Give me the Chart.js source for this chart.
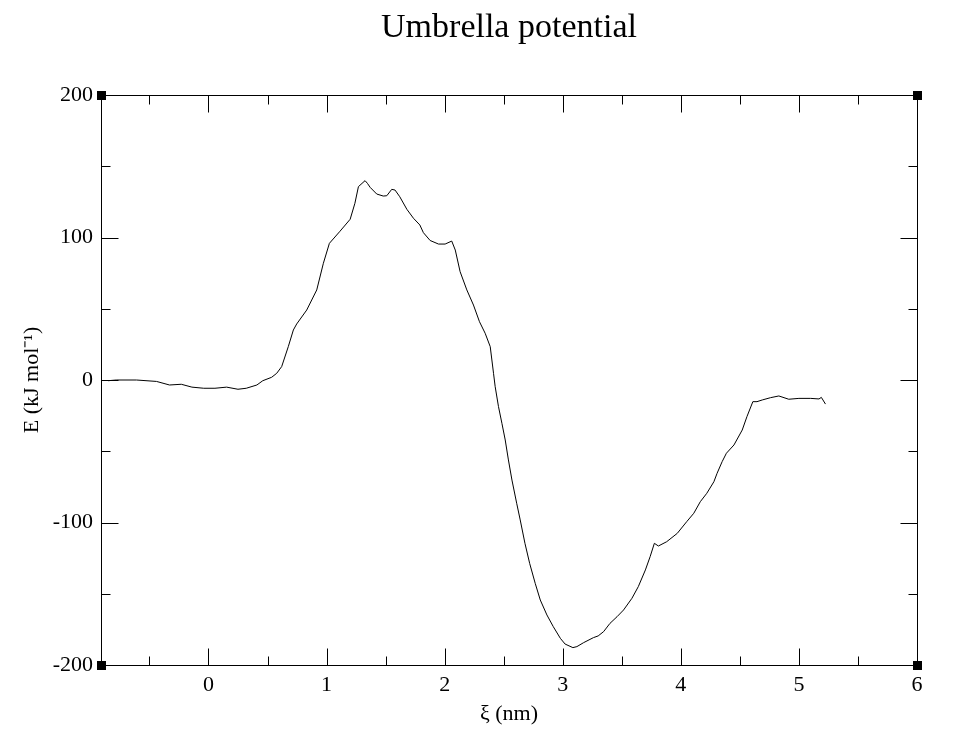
<!DOCTYPE html>
<html>
<head>
<meta charset="utf-8">
<title>Umbrella potential</title>
<script src="https://cdn.jsdelivr.net/npm/chart.js@4/dist/chart.umd.min.js"></script>
<style>
  html, body { margin: 0; padding: 0; background: #fff; }
  #wrap { width: 959px; height: 747px; }
</style>
</head>
<body>
<div id="wrap"><canvas id="umbrella" width="959" height="747"></canvas></div>
<script>
// reaction coordinate (nm) and energy (kJ/mol)
var xi = [-0.85, -0.78, -0.61, -0.44, -0.33, -0.23, -0.14, -0.04, 0.055, 0.154,
  0.25, 0.32, 0.41, 0.46, 0.535, 0.578, 0.62, 0.676, 0.719, 0.747,
  0.832, 0.917, 0.973, 1.024, 1.114, 1.2, 1.24, 1.27, 1.326, 1.346,
  1.369, 1.425, 1.48, 1.51, 1.552, 1.58, 1.62, 1.68, 1.736, 1.79,
  1.82, 1.877, 1.948, 2.004, 2.06, 2.09, 2.131, 2.188, 2.244, 2.295,
  2.343, 2.386, 2.414, 2.428, 2.456, 2.485, 2.513, 2.54, 2.57, 2.61,
  2.64, 2.68, 2.72, 2.767, 2.81, 2.866, 2.92, 2.98, 3.02, 3.086,
  3.12, 3.177, 3.26, 3.3, 3.346, 3.4, 3.46, 3.515, 3.586, 3.64,
  3.7, 3.74, 3.776, 3.81, 3.88, 3.97, 4.05, 4.11, 4.165, 4.22,
  4.28, 4.307, 4.35, 4.386, 4.45, 4.52, 4.56, 4.61, 4.645, 4.69,
  4.76, 4.83, 4.914, 5.0, 5.1, 5.17, 5.19, 5.225];
var energy = [-0.5, 0, 0, -1, -3.5, -3, -5, -5.8, -5.8, -5,
  -6.5, -5.8, -3.5, -0.5, 1.9, 4.7, 9.4, 23.4, 35.1, 39.3,
  49.1, 63.2, 81.9, 95.9, 104.4, 112.8, 124, 135.7, 139.9, 138,
  135.2, 130.5, 129.1, 129.3, 133.8, 133.3, 128.6, 119.8, 113.5, 108.8,
  103.4, 97.9, 95.4, 95.4, 97.5, 91.2, 76, 63.2, 52.6, 40.9,
  32.8, 23.4, 4.7, -4.7, -18.7, -30.4, -42.1, -56.1, -70.2, -86.5,
  -98.2, -114.6, -128.7, -142.7, -154.4, -164.9, -173.1, -181.3, -185.3, -187.8,
  -187.1, -184.3, -180.8, -179.6, -176.6, -170.8, -166.1, -161.4, -153.2, -145,
  -133.3, -124, -114.6, -116.5, -113.5, -107.6, -99.4, -93.5, -85.4, -79.5,
  -71.4, -65.5, -57.3, -51.4, -45.6, -35.1, -25.7, -15.2, -15.2, -14,
  -12.4, -11.2, -13.5, -12.9, -12.9, -13.3, -12.2, -16.9];

// tick positions (major ones get labels)
var xTicks = [-0.5, 0, 0.5, 1, 1.5, 2, 2.5, 3, 3.5, 4, 4.5, 5, 5.5, 6];
var yTicks = [-200, -150, -100, -50, 0, 50, 100, 150, 200];
var xMajor = 1, yMajor = 100;

var serif = '"Liberation Serif", "Times New Roman", serif';

var points = [];
for (var i = 0; i < xi.length; i++) points.push({x: xi[i], y: energy[i]});

function isMajor(v, step) { return Math.abs(v / step - Math.round(v / step)) < 1e-9; }

// grace-like frame: box, inward ticks on all sides, corner squares, title
var graceFrame = {
  id: 'graceFrame',
  afterDraw: function(chart) {
    var ctx = chart.ctx, a = chart.chartArea;
    var sx = chart.scales.x, sy = chart.scales.y;
    var L = Math.round(a.left) + 0.5, R = Math.round(a.right) + 0.5;
    var T = Math.round(a.top) + 0.5, B = Math.round(a.bottom) + 0.5;
    ctx.save();
    ctx.strokeStyle = '#000';
    ctx.lineWidth = 1;
    ctx.strokeRect(L, T, R - L, B - T);
    ctx.beginPath();
    xTicks.forEach(function(v) {
      var px = Math.round(sx.getPixelForValue(v)) + 0.5;
      var len = isMajor(v, xMajor) ? 17 : 9;
      ctx.moveTo(px, B); ctx.lineTo(px, B - len);
      ctx.moveTo(px, T); ctx.lineTo(px, T + len);
    });
    yTicks.forEach(function(v) {
      var py = Math.round(sy.getPixelForValue(v)) + 0.5;
      var len = isMajor(v, yMajor) ? 17 : 9;
      ctx.moveTo(L, py); ctx.lineTo(L + len, py);
      ctx.moveTo(R, py); ctx.lineTo(R - len, py);
    });
    ctx.stroke();
    ctx.fillStyle = '#000';
    [[L, T], [R, T], [L, B], [R, B]].forEach(function(c) {
      ctx.fillRect(Math.round(c[0] - 4.5), Math.round(c[1] - 4.5), 9, 9);
    });
    ctx.font = '34px ' + serif;
    ctx.textAlign = 'center';
    ctx.textBaseline = 'alphabetic';
    ctx.fillText('Umbrella potential', (a.left + a.right) / 2, 37);
    ctx.restore();
  }
};

new Chart(document.getElementById('umbrella'), {
  type: 'line',
  data: {
    datasets: [{
      data: points,
      borderColor: '#000',
      borderWidth: 1,
      pointRadius: 0,
      tension: 0,
      fill: false
    }]
  },
  options: {
    responsive: false,
    animation: false,
    layout: { padding: { top: 95, right: 42, left: 0, bottom: 0 } },
    plugins: { legend: { display: false }, tooltip: { enabled: false } },
    scales: {
      x: {
        type: 'linear',
        min: -0.91,
        max: 6,
        afterBuildTicks: function(s) { s.ticks = xTicks.map(function(v) { return {value: v}; }); },
        afterFit: function(s) { s.height = 82; },
        grid: { display: false, drawTicks: false },
        border: { display: false },
        ticks: {
          autoSkip: false, maxRotation: 0, padding: 7,
          color: '#000', font: { family: serif, size: 22 },
          callback: function(v) { return isMajor(v, xMajor) ? String(v) : ''; }
        },
        title: {
          display: true, text: 'ξ (nm)', color: '#000',
          font: { family: serif, size: 22 }, padding: { top: 0, bottom: 20 }
        }
      },
      y: {
        min: -200,
        max: 200,
        afterBuildTicks: function(s) { s.ticks = yTicks.map(function(v) { return {value: v}; }); },
        afterFit: function(s) { s.width = 101; },
        grid: { display: false, drawTicks: false },
        border: { display: false },
        ticks: {
          autoSkip: false, padding: 8,
          color: '#000', font: { family: serif, size: 22 },
          callback: function(v) { return isMajor(v, yMajor) ? String(v) : ''; }
        },
        title: {
          display: true, text: 'E (kJ mol⁻¹)', color: '#000',
          font: { family: serif, size: 22 }, padding: { top: 19, bottom: 0 }
        }
      }
    }
  },
  plugins: [graceFrame]
});
</script>
</body>
</html>
